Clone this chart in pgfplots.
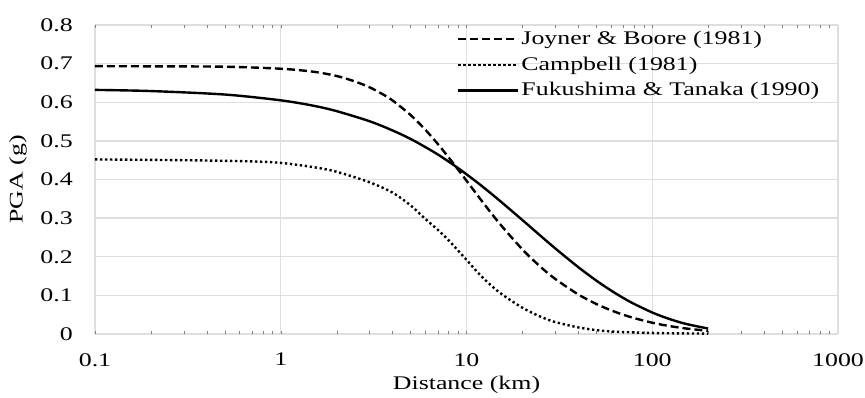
\documentclass[border=0pt]{standalone}
\usepackage{fontspec}
\setmainfont{Liberation Serif}[FakeStretch=1.34]
\usepackage{pgfplots}
\pgfplotsset{compat=1.18}
\definecolor{gridc}{RGB}{222,222,222}
\begin{document}
\fontsize{19.3}{22}\selectfont
\begin{tikzpicture}
\begin{axis}[
  at={(0,0)}, anchor=south west,
  scale only axis, width=743pt, height=309pt,
  xmode=log, xmin=0.1, xmax=1000, ymin=0, ymax=0.8,
  xtick={0.1,1,10,100,1000}, xticklabels={0.1,1,10,100,1000},
  ytick={0,0.1,0.2,0.3,0.4,0.5,0.6,0.7,0.8},
  minor xtick={}, minor tick num=0,
  /pgf/number format/assume math mode=true,
  /pgf/number format/fixed, /pgf/number format/precision=1,
  yticklabel={\pgfmathprintnumber{\tick}},
  major tick length=0pt,
  grid=major, grid style={gridc, line width=1.3pt},
  axis line style={draw=none},
  yticklabel style={anchor=east, inner sep=0pt, xshift=-22pt},
  xticklabel style={anchor=north, inner sep=0pt, yshift=-19pt},
  every axis y label/.style={at={(axis description cs:-0.1036,0.5)}, rotate=90, anchor=center},
  every axis x label/.style={at={(axis description cs:0.5,-0.165)}, anchor=center},
  xlabel={Distance (km)}, ylabel={PGA (g)},
  legend style={at={(axis description cs:0.487,0.988)}, anchor=north west, draw=none, fill=none, inner sep=0pt, row sep=5.5pt, cells={anchor=west}},
  legend image code/.code={\draw[#1] (0pt,0pt) -- (60pt,0pt);},
]
\addplot[black, line width=2.4pt, dash pattern=on 8pt off 4pt, smooth] coordinates {
(0.1,0.6934) (0.2,0.693) (0.5,0.692) (1,0.6868) (1.5,0.679) (2,0.668) (2.5,0.654) (3,0.639) (3.5,0.622) (4,0.6046) (5,0.567) (6,0.529) (7,0.4923) (8,0.4577) (9,0.426) (10,0.397) (12,0.3465) (15,0.2872) (20,0.219) (25,0.1741) (30,0.1428) (40,0.1023) (50,0.0777) (60,0.0613) (70,0.0497) (80,0.0411) (100,0.0292) (120,0.0217) (150,0.0146) (200,0.0082)};
\addlegendentry{Joyner \& Boore (1981)}
\addplot[black, line width=2.4pt, dash pattern=on 2.3pt off 2.7pt, smooth] coordinates {
(0.1,0.452) (0.3,0.45) (0.68,0.447) (1,0.443) (1.5,0.432) (2,0.42) (3,0.393) (4,0.366) (5,0.333) (6,0.298) (7,0.270) (8,0.243) (10,0.192) (12,0.150) (15,0.108) (20,0.068) (25,0.045) (30,0.031) (40,0.017) (50,0.010) (60,0.0065) (80,0.004) (100,0.0025) (150,0.0015) (200,0.001)};
\addlegendentry{Campbell (1981)}
\addplot[black, line width=2.4pt, smooth] coordinates {
(0.1,0.632) (0.2,0.629) (0.5,0.620) (1,0.605) (1.5,0.591) (2,0.577) (3,0.551) (4,0.527) (5,0.505) (6,0.484) (7,0.465) (8,0.4466) (9,0.4296) (10,0.4136) (12,0.3844) (15,0.3463) (20,0.295) (25,0.2545) (30,0.2219) (40,0.173) (50,0.1383) (60,0.1126) (70,0.093) (80,0.0777) (100,0.0557) (120,0.041) (150,0.0268) (200,0.0141)};
\addlegendentry{Fukushima \& Tanaka (1990)}
\end{axis}
\pgfresetboundingbox
\path[use as bounding box] (-95pt,-63pt) rectangle (770pt,334pt);
\end{tikzpicture}
\end{document}
